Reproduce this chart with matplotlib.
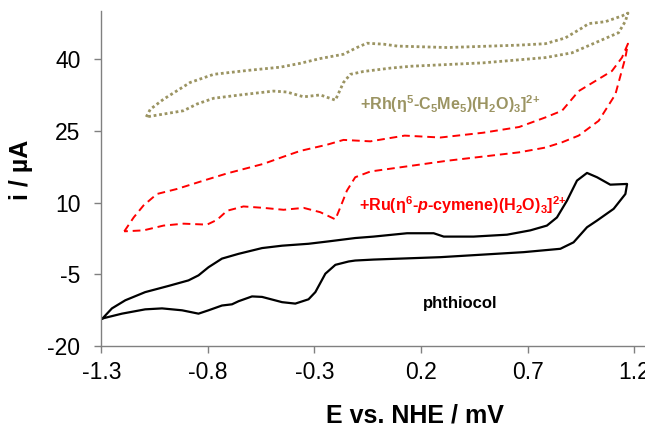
import numpy as np
import matplotlib.pyplot as plt

plt.rcParams['font.family'] = ['Liberation Sans', 'DejaVu Sans']
plt.rcParams['axes.unicode_minus'] = False
plt.rcParams['mathtext.fontset'] = 'custom'
plt.rcParams['mathtext.rm'] = 'Liberation Sans:bold'
plt.rcParams['mathtext.bf'] = 'Liberation Sans:bold'
plt.rcParams['mathtext.bfit'] = 'Liberation Sans:bold:italic'

# phthiocol (black, solid) - closed loop
phth_E = [-1.294, -1.250, -1.187, -1.094, -0.984, -0.891, -0.844, -0.797, -0.734, -0.656,
          -0.546, -0.452, -0.328, -0.234, -0.109, -0.023, 0.134, 0.259, 0.306, 0.446,
          0.603, 0.712, 0.790, 0.837, 0.884, 0.931, 0.978, 1.025, 1.087, 1.166,
          1.158, 1.103, 1.025, 0.978, 0.915, 0.853, 0.681, 0.290, -0.023, -0.109,
          -0.140, -0.202, -0.249, -0.296, -0.328, -0.390, -0.452, -0.546, -0.593, -0.656,
          -0.687, -0.734, -0.797, -0.844, -0.921, -1.015, -1.094, -1.203, -1.294]
phth_i = [-14.2, -12.1, -10.4, -8.7, -7.4, -6.25, -5.2, -3.5, -1.7, -0.7,
          0.5, 1.0, 1.4, 1.9, 2.6, 2.9, 3.6, 3.6, 2.9, 2.9,
          3.3, 4.2, 5.2, 6.9, 10.4, 14.6, 16.2, 15.3, 13.75, 13.9,
          11.8, 8.7, 6.25, 4.85, 1.7, 0.35, -0.35, -1.4, -1.9, -2.1,
          -2.3, -3.0, -4.85, -8.7, -10.2, -11.1, -10.8, -9.7, -9.6, -10.6,
          -11.25, -11.5, -12.5, -13.2, -12.5, -12.1, -12.3, -13.2, -14.2]

# + Ru(p-cymene) (red, dashed)
ru_E = [-1.192, -1.148, -1.102, -1.039, -0.945, -0.820, -0.710, -0.539, -0.445, -0.367,
        -0.241, -0.164, -0.038, 0.123, 0.290, 0.491, 0.660, 0.783, 0.861, 0.939,
        1.017, 1.095, 1.142, 1.170,
        1.158, 1.111, 1.033, 0.939, 0.861, 0.783, 0.659, 0.323, -0.038, -0.109,
        -0.148, -0.179, -0.202, -0.273, -0.351, -0.445, -0.539, -0.633, -0.710, -0.757,
        -0.804, -0.914, -1.008, -1.102, -1.192]
ru_i = [4.0, 6.9, 9.4, 11.8, 12.85, 14.6, 16.1, 18.1, 19.6, 20.8,
        22.1, 23.1, 22.8, 24.0, 23.6, 24.6, 25.8, 27.8, 29.2, 33.3,
        35.4, 37.5, 40.3, 43.2,
        40.3, 32.6, 27.1, 24.0, 22.6, 21.5, 20.5, 18.75, 16.5, 15.3,
        12.5, 9.0, 6.5, 8.0, 8.9, 8.5, 8.9, 9.2, 8.3, 6.4,
        5.4, 5.6, 5.2, 4.2, 4.0]

# + Rh(Cp*) (olive, dotted)
rh_E = [-1.089, -1.070, -1.008, -0.883, -0.773, -0.617, -0.460, -0.367, -0.273, -0.164,
        -0.101, -0.054, 0.024, 0.089, 0.323, 0.659, 0.783, 0.876, 0.955, 0.986,
        1.064, 1.142, 1.170,
        1.158, 1.126, 1.017, 0.908, 0.783, 0.491, 0.156, 0.056, -0.070, -0.132,
        -0.164, -0.202, -0.273, -0.351, -0.429, -0.492, -0.648, -0.773, -0.851, -0.914,
        -1.008, -1.089]
rh_i = [27.9, 29.5, 31.6, 35.1, 36.8, 37.6, 38.3, 39.1, 40.1, 41.0,
        42.4, 43.3, 43.1, 42.7, 42.4, 42.9, 43.2, 44.4, 46.5, 47.4,
        47.8, 49.0, 49.6,
        47.9, 45.5, 43.4, 41.3, 40.3, 39.2, 38.5, 38.1, 37.4, 36.8,
        35.1, 31.4, 32.5, 32.1, 33.1, 33.3, 32.5, 31.8, 30.6, 29.2,
        28.5, 27.9]

xticks = [-1.3, -0.8, -0.3, 0.2, 0.7, 1.2]
yticks = [-20, -5, 10, 25, 40]

olive = '#9b9462'

fig = plt.figure(figsize=(6.45, 4.29), dpi=100)
ax = fig.add_axes([0.157, 0.193, 0.843, 0.781])

ax.plot(phth_E, phth_i, color='black', lw=1.6, solid_joinstyle='round')
ax.plot(ru_E, ru_i, color='#ff0000', lw=1.4, linestyle=(0, (4, 2.5)))
ax.plot(rh_E, rh_i, color=olive, lw=2.0, linestyle=(0, (1, 1)))

ax.text(-0.085, 30.6, r'+Rh(η$^{5}$-C$_{5}$Me$_{5}$)(H$_{2}$O)$_{3}$]$^{2\!+}$',
        color=olive, fontsize=11.6, fontweight='bold', va='center')
ax.text(-0.09, 9.4, r'+Ru(η$^{6}$-$\mathbfit{p}$-cymene)(H$_{2}$O)$_{3}$]$^{2\!+}$',
        color='#ff0000', fontsize=11.6, fontweight='bold', va='center')
ax.text(0.21, -11.0, 'phthiocol', color='black', fontsize=12,
        fontweight='bold', va='center')

ax.set_xlim(-1.3, 1.25)
ax.set_ylim(-20, 50)
ax.set_xticks(xticks)
ax.set_xticklabels([str(v) for v in xticks])
ax.set_yticks(yticks)

for s in ['top', 'right']:
    ax.spines[s].set_visible(False)
for s in ['left', 'bottom']:
    ax.spines[s].set_color('#808080')
    ax.spines[s].set_linewidth(1.0)

ax.tick_params(axis='both', labelsize=16.5, color='#808080', length=5, width=1,
               direction='out')
ax.tick_params(axis='x', pad=6)
ax.tick_params(axis='y', pad=10)

ax.set_xlabel('E vs. NHE / mV', fontsize=18, fontweight='bold')
ax.set_ylabel('i / µA', fontsize=18, fontweight='bold')
ax.xaxis.set_label_coords(0.577, -0.17)
ax.yaxis.set_label_coords(-0.125, 0.525)

fig.savefig('out.png', dpi=100)
